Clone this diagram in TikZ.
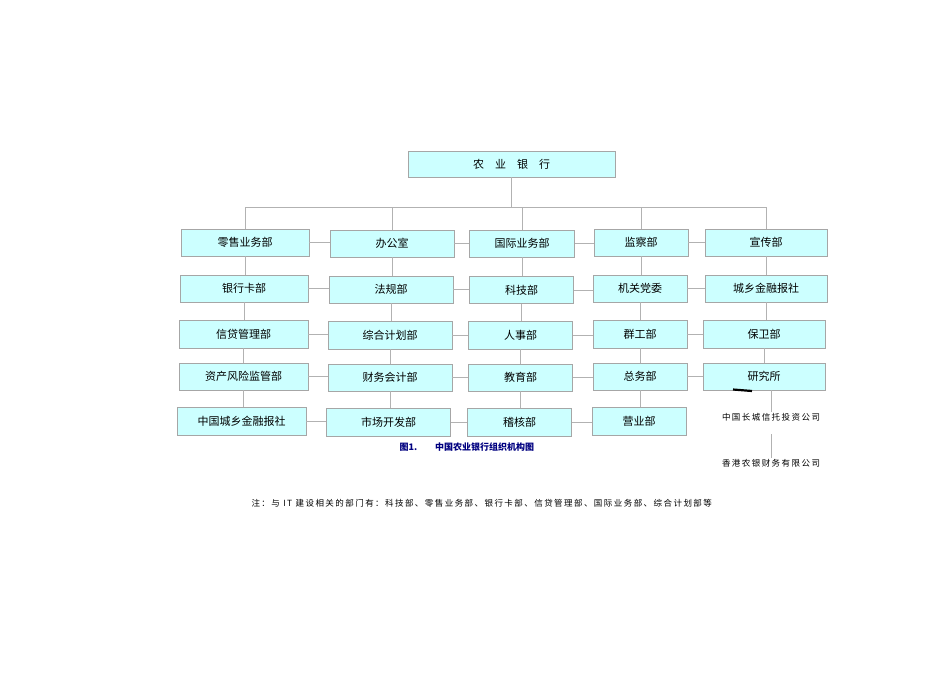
\documentclass[tikz,border=0pt]{standalone}
\usepackage{fontspec}
\setmainfont{Noto Sans CJK SC}
\newfontfamily\spaced[LetterSpace=17]{Noto Sans CJK SC}
\definecolor{boxfill}{HTML}{CCFFFF}
\begin{document}
\begin{tikzpicture}[x=1pt,y=-1pt,
  bx/.style={draw=gray!70,fill=boxfill,inner sep=0pt,font=\fontsize{11}{12}\selectfont},
  ln/.style={draw=gray!60,line width=0.6pt},
  sm/.style={font=\spaced\fontsize{8.5}{10}\selectfont}]
\useasboundingbox (0,0) rectangle (950,672);
\node[bx,minimum width=207,minimum height=26] (top) at (511.5,164) {农\quad 业\quad 银\quad 行};
% column a
\node[bx,minimum width=128,minimum height=27] (a1) at (245,242.5) {零售业务部};
\node[bx,minimum width=128,minimum height=27] (a2) at (244,288.5) {银行卡部};
\node[bx,minimum width=129,minimum height=28] (a3) at (243.5,334) {信贷管理部};
\node[bx,minimum width=129,minimum height=27] (a4) at (243.5,376.5) {资产风险监管部};
\node[bx,minimum width=129,minimum height=28] (a5) at (241.5,421) {中国城乡金融报社};
% column b
\node[bx,minimum width=124,minimum height=27] (b1) at (392,243.5) {办公室};
\node[bx,minimum width=124,minimum height=27] (b2) at (391,289.5) {法规部};
\node[bx,minimum width=124,minimum height=28] (b3) at (390,335) {综合计划部};
\node[bx,minimum width=124,minimum height=27] (b4) at (390,377.5) {财务会计部};
\node[bx,minimum width=124,minimum height=28] (b5) at (388.5,422) {市场开发部};
% column c
\node[bx,minimum width=105,minimum height=27] (c1) at (522,243.5) {国际业务部};
\node[bx,minimum width=104,minimum height=27] (c2) at (521.5,290) {科技部};
\node[bx,minimum width=104,minimum height=28] (c3) at (520.5,335) {人事部};
\node[bx,minimum width=104,minimum height=27] (c4) at (520.5,377.5) {教育部};
\node[bx,minimum width=104,minimum height=28] (c5) at (519.5,422) {稽核部};
% column d
\node[bx,minimum width=94,minimum height=27] (d1) at (641,242.5) {监察部};
\node[bx,minimum width=94,minimum height=27] (d2) at (640,288.5) {机关党委};
\node[bx,minimum width=94,minimum height=28] (d3) at (640,334) {群工部};
\node[bx,minimum width=94,minimum height=27] (d4) at (640,376.5) {总务部};
\node[bx,minimum width=94,minimum height=28] (d5) at (639,421) {营业部};
% column e
\node[bx,minimum width=122,minimum height=27] (e1) at (766,242.5) {宣传部};
\node[bx,minimum width=122,minimum height=27] (e2) at (766,288.5) {城乡金融报社};
\node[bx,minimum width=122,minimum height=28] (e3) at (764,334) {保卫部};
\node[bx,minimum width=122,minimum height=27] (e4) at (764,376.5) {研究所};
\node[sm,inner sep=1pt] (e5) at (771,417) {中国长城信托投资公司};
\node[sm,inner sep=1pt] (e6) at (771,463) {香港农银财务有限公司};
% bus
\coordinate (bus) at (top.south |- 0,207);
\draw[ln] (top.south) -- (bus);
\draw[ln] (a1.north |- bus) -- (e1.north |- bus);
\foreach \n in {a1,b1,c1,d1,e1} \draw[ln] (\n.north |- bus) -- (\n.north);
% verticals
\foreach \c in {a,b,c,d}{
  \foreach \i/\j in {1/2,2/3,3/4,4/5} \draw[ln] (\c\i.south) -- (\c\i.south |- \c\j.north);}
\foreach \i/\j in {1/2,2/3,3/4} \draw[ln] (e\i.south) -- (e\i.south |- e\j.north);
\draw[ln] (e5.north |- e4.south) -- (e5.north);
\draw[ln] (e5.south) ++(0,12) -- (e6.north);
% horizontals
\foreach \r in {1,2,3,4}{
  \foreach \p/\q in {a/b,b/c,c/d,d/e} \draw[ln] (\p\r.east) -- (\q\r.west |- \p\r.east);}
\foreach \p/\q in {a/b,b/c,c/d} \draw[ln] (\p5.east) -- (\q5.west |- \p5.east);
% black mark
\draw[line width=2.2pt] (733,389.5) -- (752,391);
% caption
\node[font=\fontsize{9}{10}\selectfont\bfseries,text=blue!50!black,anchor=west] (cap) at (396,447) {图1.\quad\quad 中国农业银行组织机构图};
\node[sm,anchor=west] (note) at (248,503) {注：与 IT 建设相关的部门有：科技部、零售业务部、银行卡部、信贷管理部、国际业务部、综合计划部等};
\end{tikzpicture}
\end{document}
